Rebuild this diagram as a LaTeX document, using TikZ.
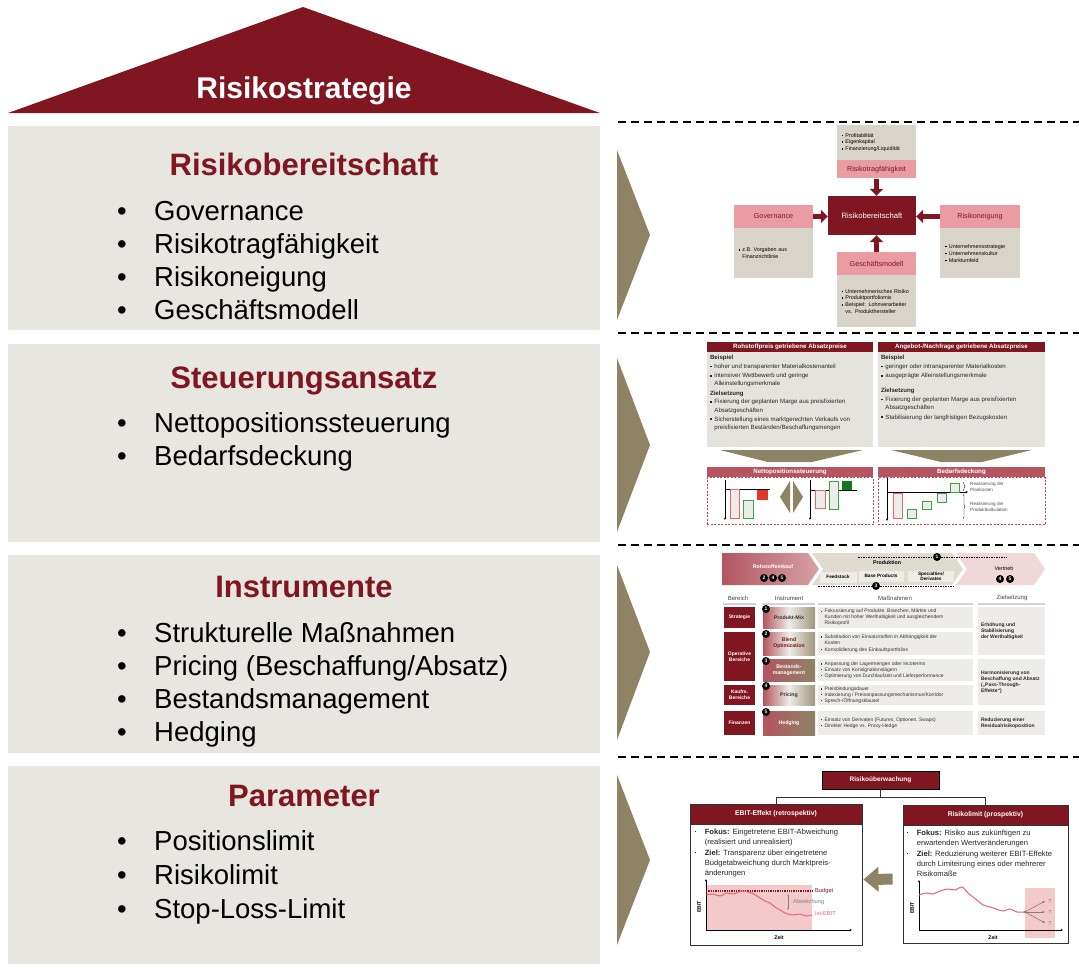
\documentclass[tikz,border=0pt]{standalone}
\usepackage{fontspec}
\setmainfont{Liberation Sans}
\usetikzlibrary{positioning,arrows.meta,decorations.pathreplacing}

\definecolor{dred}{HTML}{7F1620}
\definecolor{pillargray}{HTML}{E8E6E1}
\definecolor{taupe}{HTML}{8E8365}
\definecolor{beige}{HTML}{D9D4C9}
\definecolor{pinkhd}{HTML}{E99DA1}
\definecolor{rose}{HTML}{B4555F}
\definecolor{lightpink}{HTML}{F1D7DA}
\definecolor{cellgray}{HTML}{EDECE8}
\definecolor{thumbgray}{HTML}{E5E3DE}
\definecolor{okgreen}{HTML}{3DA33D}
\definecolor{darkgreen}{HTML}{0E7A1E}
\definecolor{badred}{HTML}{E2362A}
\definecolor{linered}{HTML}{E9646E}
\definecolor{shadepink}{HTML}{F3C9CC}

\newcommand{\fsz}[2]{\fontsize{#1}{#2}\selectfont}
\newcommand{\sqb}{\rule[0.2em]{0.28em}{0.28em}\hspace{0.45em}}
\newcommand{\hng}{\hspace*{0.73em}}
\newcommand{\smb}{\makebox[10pt][l]{\rule[1.8pt]{1.6pt}{1.6pt}}}
\newcommand{\smh}{\hspace*{10pt}}

\begin{document}
\begin{tikzpicture}[
    x=1pt, y=-1pt,
    node distance=13pt,
    pillar/.style={fill=pillargray, minimum width=592, minimum height=198, anchor=north west, inner sep=0},
    ptitle/.style={anchor=base, text=dred, font=\bfseries\fsz{31}{36}},
    pitem/.style={anchor=base west, inner sep=0, font=\fsz{27.5}{33}},
    sep/.style={line width=1.4pt, dash pattern=on 8pt off 5pt},
    chev/.style={fill=taupe},
    gbox/.style={fill=beige, inner sep=0, align=left, text width=70, font=\fsz{5.4}{6.8}},
    phead/.style={fill=pinkhd, text=dred, inner sep=0, font=\fsz{7.2}{8}},
    core/.style={fill=dred, text=white, inner sep=0, font=\fsz{7.7}{9}},
    blockarrow/.style={dred, line width=5pt, -{Triangle[length=7pt,width=13pt]}},
    hdr/.style={fill=dred, text=white, inner sep=0, font=\bfseries\fsz{6.2}{7}},
    rhdr/.style={fill=rose, text=white, inner sep=0, font=\bfseries\fsz{6.2}{7}},
    tbody/.style={fill=thumbgray, inner sep=0},
    ttext/.style={align=left, inner sep=0, text=black!85, font=\fsz{6.1}{8.2}},
    dbox/.style={draw=rose!80!red, line width=0.6pt, dash pattern=on 2pt off 1.5pt, inner sep=0},
    ax/.style={line width=0.5pt, -{Stealth[length=2.5pt,width=2.2pt]}},
    redbar/.style={draw=badred!75, fill=gray!15, line width=0.8pt},
    greenbar/.style={draw=okgreen, fill=gray!15, line width=0.8pt},
    note/.style={anchor=west, align=left, inner sep=0, text=black!70, font=\fsz{4.6}{5.4}},
    chevtxt/.style={inner sep=0, font=\bfseries\fsz{5.3}{6}},
    numdot/.style={circle, fill=black, text=white, inner sep=0, minimum size=8pt, font=\bfseries\fsz{5}{5}},
    sub/.style={fill=white!55!beige, inner sep=0, minimum height=11, align=center, font=\bfseries\fsz{4.7}{5.2}},
    th/.style={inner sep=0, text=black!75, font=\fsz{6}{7}},
    bereich/.style={fill=dred, text=white, minimum width=31, inner sep=0, align=center, font=\bfseries\fsz{5}{6.2}},
    instr/.style={minimum width=52, inner sep=0, align=center, font=\bfseries\fsz{5.2}{6}},
    lightinstr/.style={instr, left color=rose, right color=taupe!85, middle color=cellgray},
    darkinstr/.style={instr, left color=rose, right color=taupe, text=white},
    mcell/.style={fill=cellgray, minimum width=155, inner sep=0},
    zcell/.style={fill=cellgray, minimum width=67, inner sep=0},
    mtext/.style={anchor=west, align=left, inner sep=0, text=black!80, font=\fsz{5}{5.8}},
    ztext/.style={anchor=west, align=left, inner sep=0, text=black!85, font=\bfseries\fsz{5}{5.9}},
    ruebox/.style={fill=dred, draw=black, line width=0.8pt, text=white, inner sep=0, font=\bfseries\fsz{6.5}{7}},
    pane/.style={draw=black!80, line width=0.8pt, fill=white, inner sep=0},
    panehd/.style={fill=dred, draw=black!80, line width=0.8pt, text=white, inner sep=0, font=\bfseries\fsz{6.8}{7.5}},
    panetxt/.style={align=left, inner sep=0, text=black!85, font=\fsz{7.6}{10}},
    conn/.style={line width=0.8pt, black!80},
    fatarrow/.style={taupe, line width=11pt, -{Triangle[length=15pt,width=24pt]}, shorten <=10pt, shorten >=1pt},
    lbl/.style={inner sep=0, font=\fsz{5.7}{6}}
]
\useasboundingbox (0,0) rectangle (1079,969);

% Dach
\fill[dred] (8,113) -- (303,7) -- (600,113) -- cycle;
\node[anchor=base, text=white, font=\bfseries\fsz{30}{34}] (roof) at (304,98) {Risikostrategie};

% Saeulen links
\node[pillar, minimum height=204] (p1) at (8,126) {};
\node[pillar, below=of p1] (p2) {};
\node[pillar, below=of p2] (p3) {};
\node[pillar, below=of p3] (p4) {};

\node[ptitle] (t1) at (304,175) {Risikobereitschaft};
\node[ptitle] (t2) at (304,388) {Steuerungsansatz};
\node[ptitle] (t3) at (304,597) {Instrumente};
\node[ptitle] (t4) at (304,806) {Parameter};

\foreach \txt [count=\i] in {Governance, Risikotragfähigkeit, Risikoneigung, Geschäftsmodell}
  \node[pitem] (a\i) at (117,187+33*\i) {\makebox[37pt][l]{\textbullet}\txt};
\foreach \txt [count=\i] in {Nettopositionssteuerung, Bedarfsdeckung}
  \node[pitem] (b\i) at (117,399+33*\i) {\makebox[37pt][l]{\textbullet}\txt};
\foreach \txt [count=\i] in {Strukturelle Maßnahmen, Pricing (Beschaffung/Absatz), Bestandsmanagement, Hedging}
  \node[pitem] (c\i) at (117,609+33.2*\i) {\makebox[37pt][l]{\textbullet}\txt};
\foreach \txt [count=\i] in {Positionslimit, Risikolimit, Stop-Loss-Limit}
  \node[pitem] (d\i) at (117,816+34*\i) {\makebox[37pt][l]{\textbullet}\txt};

% Trennlinien und Pfeile
\foreach \yy in {122,333,545,757}
  \draw[sep] (618,\yy) -- (1079,\yy);
\foreach \ya/\yb/\yc in {150/235/320, 358/445/532, 565/652/740, 775/860/945}
  \fill[chev] (617,\ya) -- (650,\yb) -- (617,\yc) -- cycle;

% Bild 1: Risikobereitschaft
\node[gbox, minimum width=79, minimum height=35] (rtfBody) at (876.5,142.5) {\sqb Profitabilität\\ \sqb Eigenkapital\\ \sqb Finanzierung/Liquidität};
\node[phead, minimum width=79, minimum height=18, below=0pt of rtfBody] (rtf) {Risikotragfähigkeit};
\node[core, minimum width=88, minimum height=39] (rb) at (872,215.5) {Risikobereitschaft};
\node[phead, minimum width=79, minimum height=23] (gov) at (773.5,216.5) {Governance};
\node[gbox, minimum width=79, minimum height=50, below=0pt of gov] (govBody) {\sqb z.B. Vorgaben aus\\ \hng Finanzrichtlinie};
\node[phead, minimum width=80, minimum height=23] (rn) at (980,216.5) {Risikoneigung};
\node[gbox, minimum width=80, minimum height=50, below=0pt of rn] (rnBody) {\sqb Unternehmensstrategie\\ \sqb Unternehmenskultur\\ \sqb Marktumfeld};
\node[phead, minimum width=79, minimum height=23] (gm) at (876.5,263.5) {Geschäftsmodell};
\node[gbox, minimum width=79, minimum height=52, below=0pt of gm] (gmBody) {\sqb Unternehmerisches Risiko\\ \sqb Produktportfoliomix\\ \sqb Beispiel: Lohnverarbeiter\\ \hng vs. Produkthersteller};

\draw[blockarrow] (rtf.south) -- (rtf.south |- rb.north);
\draw[blockarrow] (gov.east) -- (gov.east -| rb.west);
\draw[blockarrow] (rn.west) -- (rn.west -| rb.east);
\draw[blockarrow] (gm.north) -- (gm.north |- rb.south);

% Bild 2: Steuerungsansatz
\node[hdr, minimum width=166, minimum height=10] (rp) at (790,347) {Rohstoffpreis getriebene Absatzpreise};
\node[tbody, minimum width=166, minimum height=95, below=0pt of rp] (rpBody) {};
\node[ttext, below right=3pt and 3pt of rpBody.north west] (rpTxt) {{\bfseries Beispiel}\\[0.5pt]
  \sqb hoher und transparenter Materialkostenanteil\\[1pt]
  \sqb intensiver Wettbewerb und geringe\\ \hng Alleinstellungsmerkmale\\[1pt]
  {\bfseries Zielsetzung}\\[0.5pt]
  \sqb Fixierung der geplanten Marge aus preisfixierten\\ \hng Absatzgeschäften\\[1pt]
  \sqb Sicherstellung eines marktgerechten Verkaufs von\\ \hng preisfixierten Beständen/Beschaffungsmengen};
\node[hdr, minimum width=167, minimum height=10] (an) at (961.5,347) {Angebot-/Nachfrage getriebene Absatzpreise};
\node[tbody, minimum width=167, minimum height=95, below=0pt of an] (anBody) {};
\node[ttext, below right=3pt and 3pt of anBody.north west] (anTxt) {{\bfseries Beispiel}\\[0.5pt]
  \sqb geringer oder intransparenter Materialkosten\\[1pt]
  \sqb ausgeprägte Alleinstellungsmerkmale\\[7pt]
  {\bfseries Zielsetzung}\\[0.5pt]
  \sqb Fixierung der geplanten Marge aus preisfixierten\\ \hng Absatzgeschäften\\[1pt]
  \sqb Stabilisierung der langfristigen Bezugskosten};

\fill[taupe] (720,450) -- (863,450) -- (812,462) -- (768,462) -- cycle;
\fill[taupe] (891,450) -- (1032,450) -- (982,462) -- (941,462) -- cycle;

\node[rhdr, minimum width=166, minimum height=10] (np) at (790,472) {Nettopositionssteuerung};
\node[dbox, minimum width=166, minimum height=47, below=0pt of np] (npBox) {};
\node[rhdr, minimum width=167, minimum height=10] (bd) at (961.5,472) {Bedarfsdeckung};
\node[dbox, minimum width=167, minimum height=47, below=0pt of bd] (bdBox) {};

% Nettoposition links
\draw[ax] (725,480) -- (725,520);
\draw[line width=0.5pt] (725,489) -- (770,489);
\draw[redbar] (730,489) rectangle (739,518);
\draw[greenbar] (743,500) rectangle (753,518);
\fill[badred] (757,490) rectangle (768,500);
\fill[taupe] (790,481) -- (780,497) -- (790,513) -- cycle;
\fill[taupe] (793,481) -- (803,497) -- (793,513) -- cycle;
% Nettoposition rechts
\draw[ax] (810,480) -- (810,520);
\draw[line width=0.5pt] (810,490) -- (857,490);
\draw[redbar] (815,490) rectangle (825,508);
\draw[greenbar] (829,481) rectangle (838,509);
\fill[darkgreen] (842,481) rectangle (852,490);
% Bedarfsdeckung
\draw[ax] (887,478) -- (887,521);
\draw[ax] (887,492) -- (968,492);
\draw[redbar] (893,493) rectangle (902,518);
\draw[greenbar] (907,509) rectangle (916,518);
\draw[greenbar] (922,501) rectangle (931,509);
\draw[greenbar] (937,493) rectangle (946,502);
\draw[greenbar] (950,483) rectangle (959,492);
\draw[line width=0.4pt, decorate, decoration={brace, amplitude=2pt}] (963,482) -- (963,491);
\draw[line width=0.4pt, decorate, decoration={brace, amplitude=2pt}] (963,494) -- (963,519);
\node[note] (plk) at (970,487) {Realisierung der\\Plankosten};
\node[note] (pdk) at (970,507) {Realisierung der\\Produktkalkulation};

% Bild 3: Instrumente
\shade[left color=rose, right color=rose!55] (722,553) -- (808,553) -- (819,569) -- (808,585) -- (722,585) -- cycle;
\fill[beige!85] (812,553) -- (952,553) -- (963,569) -- (952,585) -- (812,585) -- (823,569) -- cycle;
\fill[lightpink] (956,553) -- (1034,553) -- (1045,569) -- (1034,585) -- (956,585) -- (967,569) -- cycle;

\node[chevtxt, text=white] (roh) at (773,567) {Rohstoffeinkauf};
\node[numdot] (r2) at (764,578) {2};
\node[numdot] (r4) at (773,578) {4};
\node[numdot] (r5) at (782,578) {5};

\coordinate (pTopL) at (858,557);
\coordinate (pTopR) at (1007,557);
\node[numdot] (p1n) at (937,557) {1};
\draw[line width=0.5pt, dash pattern=on 1.5pt off 1pt] (pTopL) -- (p1n) -- (pTopR);
\node[chevtxt] (prod) at (887,563) {Produktion};
\node[sub, minimum width=37] (fs) at (838,577) {Feedstock};
\node[sub, minimum width=45] (bp) at (881,576) {Base Products};
\node[sub, minimum width=46] (sd) at (931,576) {Specialties/\\Derivates};
\coordinate (pBotL) at (818,586);
\coordinate (pBotR) at (955,586);
\node[numdot] (p3n) at (876,586) {3};
\draw[line width=0.5pt, dash pattern=on 1.5pt off 1pt] (pBotL) -- (p3n) -- (pBotR);

\node[chevtxt, font=\fsz{5.5}{6}] (vt) at (1004,569) {Vertrieb};
\node[numdot] (v4) at (1000,579) {4};
\node[numdot] (v5) at (1010,579) {5};

\node[th] (thB) at (738,598) {Bereich};
\node[th] (thI) at (789,598) {Instrument};
\node[th] (thM) at (895,598) {Maßnahmen};
\node[th] (thZ) at (1012,598) {Zielsetzung};
\foreach \xa/\xb in {723/756, 762/815, 818/973, 978/1045}
  \draw[gray!35, line width=1.2pt] (\xa,604) -- (\xb,604);

\node[bereich, minimum height=21] (bStr) at (739.5,617.5) {Strategie};
\node[bereich, minimum height=49] (bOp) at (739.5,656.5) {Operative\\Bereiche};
\node[bereich, minimum height=20] (bKf) at (739.5,695) {Kaufm.\\Bereiche};
\node[bereich, minimum height=24] (bFi) at (739.5,723) {Finanzen};

\node[lightinstr, minimum height=21, text=black!80] (iPM) at (789,617.5) {Produkt-Mix};
\node[lightinstr, minimum height=23, text=dred] (iBO) at (789,643.5) {Blend\\Optimization};
\node[darkinstr, minimum height=22] (iBM) at (789,670) {Bestands-\\management};
\node[lightinstr, minimum height=20, text=black!80] (iPr) at (789,695) {Pricing};
\node[darkinstr, minimum height=24] (iHe) at (789,723) {Hedging};
\foreach \yy [count=\k] in {609,634,661,686,712}
  \node[numdot] (in\k) at (766,\yy) {\k};

\node[mcell, minimum height=21] (m1) at (895.5,617.5) {};
\node[mcell, minimum height=23] (m2) at (895.5,643.5) {};
\node[mcell, minimum height=22] (m3) at (895.5,670) {};
\node[mcell, minimum height=20] (m4) at (895.5,695) {};
\node[mcell, minimum height=24] (m5) at (895.5,723) {};
\node[mtext, right=3pt of m1.west] (mt1) {\sqb Fokussierung auf Produkte, Branchen, Märkte und\\ \hng Kunden mit hoher Werthaltigkeit und ausgleichendem\\ \hng Risikoprofil};
\node[mtext, right=3pt of m2.west] (mt2) {\sqb Substitution von Einsatzstoffen in Abhängigkeit der\\ \hng Kosten\\[1pt] \sqb Konsolidierung des Einkaufsportfolios};
\node[mtext, right=3pt of m3.west] (mt3) {\sqb Anpassung der Lagermengen oder Incoterms\\ \sqb Einsatz von Konsignationslägern\\ \sqb Optimierung von Durchlaufzeit und Lieferperformance};
\node[mtext, right=3pt of m4.west] (mt4) {\sqb Preisbindungsdauer\\ \sqb Indexierung / Preisanpassungsmechanismus/Korridor\\ \sqb Sprech-/Öffnungsklausel};
\node[mtext, right=3pt of m5.west] (mt5) {\sqb Einsatz von Derivaten (Futures, Optionen, Swaps)\\ \sqb Direkter Hedge vs. Proxy-Hedge};

\node[zcell, minimum height=48] (z1) at (1011.5,631) {};
\node[zcell, minimum height=46] (z2) at (1011.5,682) {};
\node[zcell, minimum height=24] (z3) at (1011.5,723) {};
\node[ztext, right=3pt of z1.west] (zt1) {Erhöhung und\\Stabilisierung\\der Werthaltigkeit};
\node[ztext, right=3pt of z2.west] (zt2) {Harmonisierung von\\Beschaffung und Absatz\\(„Pass-Through-\\Effekte“)};
\node[ztext, right=3pt of z3.west] (zt3) {Reduzierung einer\\Residualrisikoposition};

% Bild 4: Parameter
\node[ruebox, minimum width=117, minimum height=18] (ru) at (880.5,780) {Risikoüberwachung};
\node[pane, minimum width=172, minimum height=141] (eb) at (776,874.5) {};
\node[panehd, minimum width=172, minimum height=20, below=0pt of eb.north] (ebHd) {EBIT-Effekt (retrospektiv)};
\node[pane, minimum width=165, minimum height=138] (rl) at (985.5,874) {};
\node[panehd, minimum width=165, minimum height=20, below=0pt of rl.north] (rlHd) {Risikolimit (prospektiv)};

\draw[conn] (ru.south) -- ++(0,8) coordinate (ruJ);
\draw[conn] (ruJ) -| (ebHd.north);
\draw[conn] (ruJ) -| (rlHd.north);

\node[panetxt, below right=4pt and 5pt of ebHd.south west] (ebTxt) {\smb{\bfseries Fokus:} Eingetretene EBIT-Abweichung\\
  \smh(realisiert und unrealisiert)\\[1pt]
  \smb{\bfseries Ziel:} Transparenz über eingetretene\\
  \smh Budgetabweichung durch Marktpreis-\\
  \smh änderungen};
\node[panetxt, below right=4pt and 4pt of rlHd.south west] (rlTxt) {\smb{\bfseries Fokus:} Risiko aus zukünftigen zu\\
  \smh erwartenden Wertveränderungen\\[1pt]
  \smb{\bfseries Ziel:} Reduzierung weiterer EBIT-Effekte\\
  \smh durch Limiteirung eines oder mehrerer\\
  \smh Risikomaße};

\draw[fatarrow] ([yshift=-5pt]rl.west) -- ([yshift=-5pt]eb.east);

% EBIT-Effekt Diagramm
\fill[shadepink] (706,885) rectangle (812,930);
\draw[ax] (706,930) -- (706,879);
\draw[ax] (706,930) -- (852,930);
\draw[dred, line width=1.3pt, dash pattern=on 1.3pt off 1pt] (706,891) -- (812,891);
\draw[linered, line width=1pt] plot[smooth] coordinates {(706,895) (713,894) (720,896) (727,893) (734,894) (741,891) (748,892) (754,894) (760,898) (765,901) (770,903) (775,907) (780,910) (785,913) (792,915) (800,914) (806,916) (812,915)};
\node[lbl, anchor=west, text=dred] (bud) at (815,891) {Budget};
\node[lbl, anchor=west, text=linered] (ist) at (815,914) {Ist-EBIT};
\draw[gray, line width=0.6pt, {Stealth[length=2.5pt]}-{Stealth[length=2.5pt]}] (788,894) -- (788,910);
\node[lbl, anchor=west, text=gray] (abw) at (793,902) {Abweichung};
\node[lbl, rotate=90, font=\bfseries\fsz{5.2}{6}] (ebY) at (699,907) {EBIT};
\node[lbl, font=\bfseries\fsz{5.2}{6}] (ebX) at (779,938) {Zeit};

% Risikolimit Diagramm
\fill[shadepink] (1025,888) rectangle (1055,938);
\draw[ax] (919,930) -- (919,880);
\draw[ax] (919,930) -- (1063,930);
\draw[linered, line width=1pt] plot[smooth] coordinates {(919,895) (926,893) (933,894) (940,891) (948,889) (955,890) (962,887) (968,893) (973,897) (978,901) (983,905) (990,907) (996,909) (1003,911) (1010,909) (1017,912) (1025,912)};
\fill[linered] (1025,912) circle (1.6);
\foreach \yy in {901,912,923} {
  \draw[gray, line width=0.6pt, -{Stealth[length=3pt]}] (1025,912) -- (1045,\yy);
  \node[lbl, text=gray] at (1050,\yy) {?};
}
\node[lbl, rotate=90, font=\bfseries\fsz{5.2}{6}] (rlY) at (912,908) {EBIT};
\node[lbl, font=\bfseries\fsz{5.2}{6}] (rlX) at (993,938) {Zeit};

\end{tikzpicture}
\end{document}
